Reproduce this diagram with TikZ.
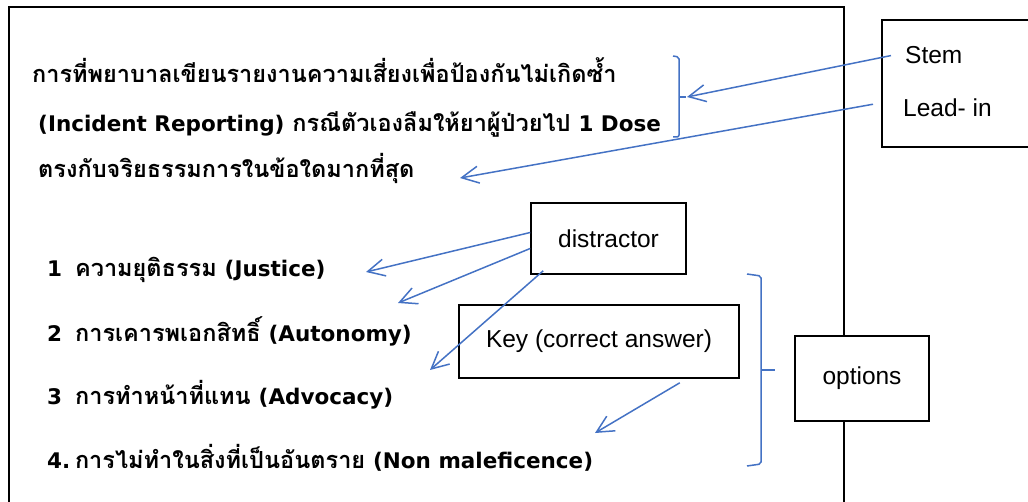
\documentclass[tikz,border=0pt]{standalone}
\usepackage{fontspec}
\setmainfont{Liberation Sans}
\newfontfamily\thaifont[Script=Thai]{Loma}
\newfontfamily\latinfont{DejaVu Sans}
\newcommand\engtext[1]{{\latinfont\bfseries\fontsize{21.5}{26}\selectfont #1}}
\usetikzlibrary{positioning,arrows.meta}
\definecolor{arrowblue}{RGB}{68,114,196}
\tikzset{
  qline/.style={anchor=base west,inner sep=0pt,font=\thaifont\bfseries\fontsize{23.5}{28}\selectfont},
  tagbox/.style={draw,line width=1.6pt,fill=white,inner sep=0pt,font=\fontsize{24.5}{29}\selectfont},
  tagtext/.style={anchor=base west,inner sep=0pt,font=\fontsize{24.5}{29}\selectfont},
  pointer/.style={arrowblue,line width=1.5pt,-{Straight Barb[length=17pt,width=17pt]}},
  bracket/.style={arrowblue,line width=1.5pt,rounded corners=2pt}
}

\begin{document}
\begin{tikzpicture}[x=1pt,y=-1pt]
\useasboundingbox (0,0) rectangle (1028,502);
\draw[line width=1.6pt] (9,502) -- (9,7) -- (844,7) -- (844,502);

% question
\node[qline] (q1) at (32,83) {การที่พยาบาลเขียนรายงานความเสี่ยงเพื่อป้องกันไม่เกิดซ้ำ};
\node[qline] (q2) at (38,132) {\engtext{(Incident Reporting)} กรณีตัวเองลืมให้ยาผู้ป่วยไป \engtext{1 Dose}};
\node[qline] (q3) at (38,178) {ตรงกับจริยธรรมการในข้อใดมากที่สุด};

% choices
\node[qline] (o1) at (47,277) {\engtext{1}\hspace{0.55em}ความยุติธรรม \engtext{(Justice)}};
\node[qline] (o2) at (47,342) {\engtext{2}\hspace{0.55em}การเคารพเอกสิทธิ์ \engtext{(Autonomy)}};
\node[qline] (o3) at (47,404) {\engtext{3}\hspace{0.55em}การทำหน้าที่แทน \engtext{(Advocacy)}};
\node[qline] (o4) at (47,468) {\engtext{4.}\hspace{0.2em}การไม่ทำในสิ่งที่เป็นอันตราย \engtext{(Non maleficence)}};

% labels
\node[tagbox,minimum width=160pt,minimum height=127pt] (stembox) at (962,83.5) {};
\node[tagtext] (stem) at (905,64) {Stem};
\node[tagtext] (leadin) at (903,117) {Lead- in};
\node[tagbox,minimum width=155pt,minimum height=71pt] (distractor) at (608.5,238.5) {distractor};
\node[tagbox,minimum width=280pt,minimum height=73pt] (key) at (599,341.5) {Key (correct answer)};
\node[tagbox,minimum width=134pt,minimum height=85pt] (options) at (862,378.5) {options};

% brackets
\draw[bracket] (673,56) -- (679,57) -- (679,137) -- (673,137);
\draw[bracket] (679,97) -- (686,97);
\draw[bracket] (747,274) -- (761,276) -- (761,464) -- (747,466);
\draw[bracket] (761,370) -- (775,370);

\coordinate (stemend) at (687,97);
\coordinate (leadend) at (460,178);
\coordinate (d1end) at (366,272);
\coordinate (d2end) at (398,303);
\coordinate (d3end) at (430,370);
\coordinate (keyend) at (595,433);

\draw[pointer] ([xshift=-14pt]stem.west) -- (stemend);
\draw[pointer] ([xshift=-30pt,yshift=4pt]leadin.west) -- (leadend);
\draw[pointer] ([yshift=6pt]distractor.west) -- (d1end);
\draw[pointer] ([yshift=-10pt]distractor.west) -- (d2end);
\draw[pointer] ([xshift=13pt,yshift=4pt]distractor.south west) -- (d3end);
\draw[pointer] ([xshift=-60pt,yshift=-4pt]key.south east) -- (keyend);
\end{tikzpicture}
\end{document}
